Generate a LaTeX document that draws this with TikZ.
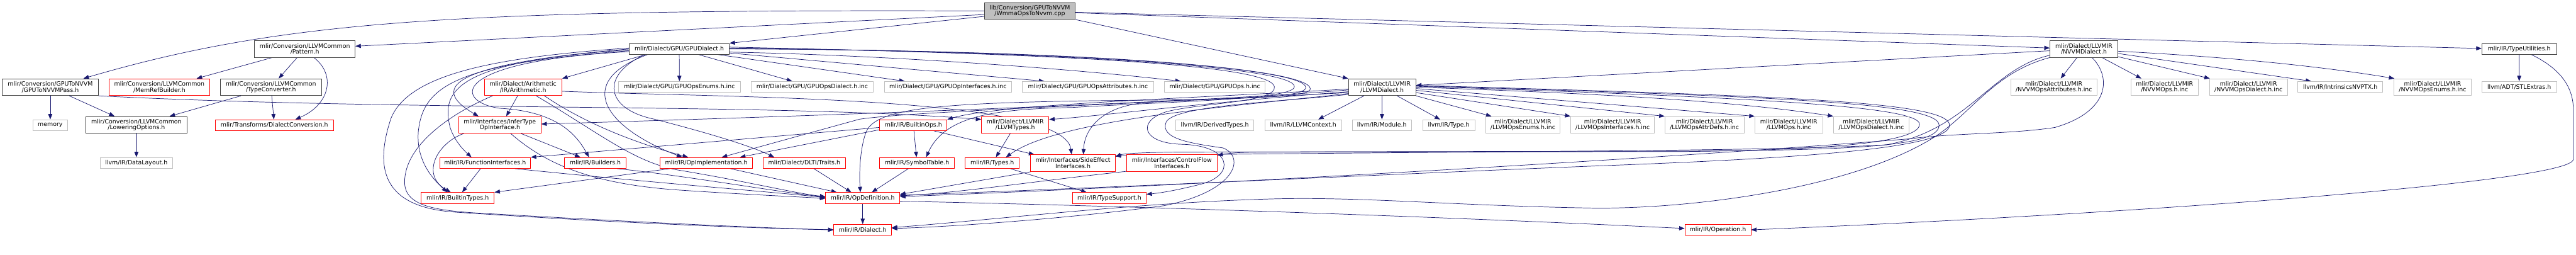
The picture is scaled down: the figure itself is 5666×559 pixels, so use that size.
\documentclass[tikz,border=0pt]{standalone}
\usepackage{fontspec}
\setmainfont{DejaVu Sans}[Ligatures=NoCommon]
\usepackage{xcolor}
\usepackage{tikz}
\usetikzlibrary{arrows.meta}
\definecolor{DoxEdge}{HTML}{191970}
\definecolor{DoxFrame}{HTML}{404040}
\definecolor{DoxRed}{HTML}{FF0000}
\definecolor{DoxGrey}{HTML}{BFBFBF}
\pgfdeclarelayer{background}
\pgfsetlayers{background,main}

\begin{document}
\begin{tikzpicture}[x=1pt,y=-1pt,>={Triangle[length=12pt,width=9pt]},
    hdr/.style={draw=DoxFrame,line width=1.1pt,fill=white,inner sep=0pt,
      align=center,minimum height=24pt,font=\fontsize{13}{13}\selectfont},
    w/.style={minimum width=#1pt},
    two/.style={minimum height=37pt},
    doc/.style={hdr},
    trunc/.style={hdr,draw=DoxRed},
    ext/.style={hdr,draw=DoxGrey},
    rootfile/.style={hdr,fill=DoxGrey},
    inc/.style={->,draw=DoxEdge,line width=1pt}]
  \useasboundingbox (0,0) rectangle (5666,559);
  % Source file.
  \node[rootfile,w=200,two] (wmma) at (2265,24) {lib/Conversion/GPUToNVVM\\/WmmaOpsToNvvm.cpp};
  % Direct includes.
  \node[doc,w=221,two] (pattern) at (670.5,107.5) {mlir/Conversion/LLVMCommon\\/Pattern.h};
  \node[doc,w=220] (gpudial) at (1494,107.5) {mlir/Dialect/GPU/GPUDialect.h};
  \node[doc,w=149,two] (nvvmdial) at (4583.5,107.5) {mlir/Dialect/LLVMIR\\/NVVMDialect.h};
  \node[doc,w=164] (typeutil) at (5541,107.5) {mlir/IR/TypeUtilities.h};
  % Second rank.
  \node[doc,w=211,two] (gpupass) at (110.5,191.5) {mlir/Conversion/GPUToNVVM\\/GPUToNVVMPass.h};
  \node[trunc,w=221,two] (memref) at (350.5,191.5) {mlir/Conversion/LLVMCommon\\/MemRefBuilder.h};
  \node[doc,w=222,two] (typeconv) at (596,191.5) {mlir/Conversion/LLVMCommon\\/TypeConverter.h};
  \node[trunc,w=171,two] (arith) at (1150.5,191.5) {mlir/Dialect/Arithmetic\\/IR/Arithmetic.h};
  \node[ext,w=267] (gpuenums) at (1494.5,191) {mlir/Dialect/GPU/GPUOpsEnums.h.inc};
  \node[ext,w=269] (gpuopsdial) at (1786.5,191) {mlir/Dialect/GPU/GPUOpsDialect.h.inc};
  \node[ext,w=280] (gpuiface) at (2085,191) {mlir/Dialect/GPU/GPUOpInterfaces.h.inc};
  \node[ext,w=288] (gpuattrs) at (2393,191) {mlir/Dialect/GPU/GPUOpsAttributes.h.inc};
  \node[ext,w=222] (gpuops) at (2672,191) {mlir/Dialect/GPU/GPUOps.h.inc};
  \node[doc,w=148,two] (llvmdial) at (3040,191.5) {mlir/Dialect/LLVMIR\\/LLVMDialect.h};
  \node[ext,w=189,two] (nvvmattrs) at (4517.5,191.5) {mlir/Dialect/LLVMIR\\/NVVMOpsAttributes.h.inc};
  \node[ext,w=148,two] (nvvmops) at (4761,191.5) {mlir/Dialect/LLVMIR\\/NVVMOps.h.inc};
  \node[ext,w=171,two] (nvvmopsdial) at (4945.5,191.5) {mlir/Dialect/LLVMIR\\/NVVMOpsDialect.h.inc};
  \node[ext,w=187] (nvptx) at (5147.5,191) {llvm/IR/IntrinsicsNVPTX.h};
  \node[ext,w=169,two] (nvvmenums) at (5350.5,191.5) {mlir/Dialect/LLVMIR\\/NVVMOpsEnums.h.inc};
  \node[ext,w=164] (stlextras) at (5541,191) {llvm/ADT/STLExtras.h};
  % Third rank.
  \node[ext,w=77] (memory) at (110.5,275) {memory};
  \node[doc,w=222,two] (lowering) at (300,274.5) {mlir/Conversion/LLVMCommon\\/LoweringOptions.h};
  \node[trunc,w=259] (dialconv) at (603.5,275) {mlir/Transforms/DialectConversion.h};
  \node[trunc,w=181,two] (infertype) at (1099.5,274.5) {mlir/Interfaces/InferType\\OpInterface.h};
  \node[trunc,w=148] (builtinops) at (2009,275) {mlir/IR/BuiltinOps.h};
  \node[trunc,w=148,two] (llvmtypes) at (2233,274.5) {mlir/Dialect/LLVMIR\\/LLVMTypes.h};
  \node[ext,w=172] (derived) at (2672,275) {llvm/IR/DerivedTypes.h};
  \node[ext,w=169] (llvmctx) at (2866.5,275) {llvm/IR/LLVMContext.h};
  \node[ext,w=131] (module) at (3039.5,275) {llvm/IR/Module.h};
  \node[ext,w=115] (irtype) at (3186.5,275) {llvm/IR/Type.h};
  \node[ext,w=163,two] (llvmenums) at (3349.5,274.5) {mlir/Dialect/LLVMIR\\/LLVMOpsEnums.h.inc};
  \node[ext,w=184,two] (llvmiface) at (3547,274.5) {mlir/Dialect/LLVMIR\\/LLVMOpsInterfaces.h.inc};
  \node[ext,w=174,two] (llvmattrs) at (3749,274.5) {mlir/Dialect/LLVMIR\\/LLVMOpsAttrDefs.h.inc};
  \node[ext,w=149,two] (llvmops) at (3934.5,274.5) {mlir/Dialect/LLVMIR\\/LLVMOps.h.inc};
  \node[ext,w=166,two] (llvmopsdial) at (4116,274.5) {mlir/Dialect/LLVMIR\\/LLVMOpsDialect.h.inc};
  % Fourth rank.
  \node[ext,w=158] (datalayout) at (300,358) {llvm/IR/DataLayout.h};
  \node[trunc,w=200] (funciface) at (1067,358) {mlir/IR/FunctionInterfaces.h};
  \node[trunc,w=135] (builders) at (1309.5,358) {mlir/IR/Builders.h};
  \node[trunc,w=203] (opimpl) at (1553.5,358) {mlir/IR/OpImplementation.h};
  \node[trunc,w=180] (dlti) at (1769,358) {mlir/Dialect/DLTI/Traits.h};
  \node[trunc,w=164] (symtab) at (2017,358) {mlir/IR/SymbolTable.h};
  \node[trunc,w=119] (types) at (2182.5,358) {mlir/IR/Types.h};
  \node[trunc,w=186,two] (sideeff) at (2360,358.5) {mlir/Interfaces/SideEffect\\Interfaces.h};
  \node[trunc,w=199,two] (ctrlflow) at (2577.5,358.5) {mlir/Interfaces/ControlFlow\\Interfaces.h};
  % Bottom ranks.
  \node[trunc,w=161] (builtintypes) at (1006.5,435) {mlir/IR/BuiltinTypes.h};
  \node[trunc,w=163] (opdef) at (1897.5,435) {mlir/IR/OpDefinition.h};
  \node[trunc,w=162] (typesupp) at (2440,435) {mlir/IR/TypeSupport.h};
  \node[trunc,w=127] (dialect) at (1897.5,505) {mlir/IR/Dialect.h};
  \node[trunc,w=145] (operation) at (3778.5,505) {mlir/IR/Operation.h};

  \begin{pgfonlayer}{background}
  % Includes of the source file.
  \draw[inc] (wmma.west) .. controls (1000,20) and (620,45) .. ([xshift=73pt]gpupass.north);
  \draw[inc] ([yshift=-8pt]wmma.west) -- ([yshift=6pt]pattern.east);
  \draw[inc] ([yshift=-12pt]wmma.west) -- (gpudial.north east);
  \draw[inc] (wmma.south east) -- (llvmdial.north west);
  \draw[inc] ([yshift=-4pt]wmma.east) -- ([yshift=2pt]nvvmdial.west);
  \draw[inc] ([yshift=-3pt]wmma.east) -- ([yshift=1pt]typeutil.west);
  % Conversion headers.
  \draw[inc] (gpupass) -- (memory);
  \draw[inc] ([xshift=42pt]gpupass.south) -- ([xshift=-48pt]lowering.north);
  \draw[inc] (gpupass.south east) .. controls (900,245) and (1700,226) .. ([yshift=12pt]llvmtypes.west);
  \draw[inc] ([xshift=-72pt]pattern.south) -- ([xshift=82pt]memref.north);
  \draw[inc] ([xshift=-17pt]pattern.south) -- ([xshift=17pt]typeconv.north);
  \draw[inc] ([xshift=20pt]pattern.south) .. controls (740,165) and (725,230) .. ([xshift=46pt]dialconv.north);
  \draw[inc] ([xshift=-66pt]typeconv.south) -- ([xshift=73pt]lowering.north);
  \draw[inc] (typeconv) -- (dialconv);
  \draw[inc] (lowering) -- (datalayout);
  % TypeUtilities.
  \draw[inc] (typeutil) -- (stlextras);
  \draw[inc] ([xshift=27pt]typeutil.south) .. controls (5630,150) and (5660,190) .. (5660,240)
        -- (5660,350) .. controls (5660,400) and (4700,470) .. (operation.east);
  % NVVM dialect.
  \draw[inc] ([yshift=-4pt]nvvmdial.west) -- ([yshift=4pt]llvmdial.east);
  \draw[inc] ([xshift=-15pt]nvvmdial.south) -- ([xshift=15pt]nvvmattrs.north);
  \draw[inc] ([xshift=40pt]nvvmdial.south) -- ([xshift=-51pt]nvvmops.north);
  \draw[inc] ([yshift=-17pt]nvvmdial.east) -- ([xshift=-85pt]nvvmopsdial.north);
  \draw[inc] ([yshift=-10pt]nvvmdial.east) -- ([xshift=-64pt]nvptx.north);
  \draw[inc] ([yshift=-5pt]nvvmdial.east) .. controls (4900,125) and (5100,145) .. ([xshift=-84pt]nvvmenums.north);
  \draw[inc] ([yshift=-14pt]nvvmdial.west) .. controls (4380,150) and (4330,285) .. (4150,318)
        .. controls (3900,334) and (3000,333) .. ([yshift=-3pt]sideeff.north east);
  \draw[inc] ([yshift=-19pt]nvvmdial.west) .. controls (4380,160) and (4330,260) .. (4240,310)
        .. controls (4050,420) and (3700,460) .. (3500,457)
        .. controls (3200,452) and (3000,432) .. (2800,437)
        .. controls (2500,445) and (2200,482) .. ([yshift=5pt]dialect.east);
  \draw[inc] ([xshift=18pt]nvvmdial.south) .. controls (4645,170) and (4640,245) .. (4520,280)
        .. controls (4420,295) and (4300,292) .. (4200,305)
        .. controls (3700,345) and (2700,405) .. ([yshift=3pt]opdef.east);
  % LLVM dialect.
  \draw[inc] ([xshift=-40pt]llvmdial.south) -- ([xshift=33pt]llvmctx.north);
  \draw[inc] (llvmdial) -- (module);
  \draw[inc] ([xshift=33pt]llvmdial.south) -- ([xshift=-19pt]irtype.north);
  \draw[inc] (llvmdial.south east) -- ([xshift=-69pt]llvmenums.north);
  \draw[inc] ([yshift=-12pt]llvmdial.east) -- (llvmiface.north west);
  \draw[inc] ([yshift=-7pt]llvmdial.east) -- (llvmattrs.north west);
  \draw[inc] ([yshift=-3pt]llvmdial.east) -- (llvmops.north west);
  \draw[inc] (llvmdial.east) .. controls (3500,205) and (3800,220) .. (llvmopsdial.north west);
  \draw[inc] ([yshift=2pt]llvmdial.east) .. controls (3900,215) and (4222,235) .. (4222,273)
        .. controls (4222,315) and (4000,330) .. (3700,333) -- (2800,334)
        .. controls (2720,334) and (2700,337) .. ([yshift=-2pt]ctrlflow.north east);
  \draw[inc] ([yshift=3pt]llvmdial.east) .. controls (3900,212) and (4265,225) .. (4265,275)
        .. controls (4265,320) and (4100,330) .. (3700,332) -- (2600,334)
        .. controls (2500,335) and (2470,338) .. ([yshift=-5pt]sideeff.north east);
  \draw[inc] ([yshift=4pt]llvmdial.east) .. controls (3900,210) and (4288,222) .. (4288,275)
        .. controls (4288,330) and (3900,350) .. (3500,365)
        .. controls (3000,385) and (2500,410) .. ([yshift=6pt]opdef.east);
  \draw[inc] ([yshift=-6pt]llvmdial.west) .. controls (2700,222) and (1800,255) .. ([yshift=2pt]infertype.east);
  \draw[inc] ([yshift=-10pt]llvmdial.west) .. controls (2650,225) and (2420,255) .. ([yshift=12pt]llvmtypes.east);
  \draw[inc] ([yshift=-4pt]llvmdial.west) .. controls (2650,215) and (2200,228) .. (builtinops.north east);
  \draw[inc] ([yshift=-14pt]llvmdial.west) .. controls (2700,235) and (2330,262) .. ([xshift=30pt]types.north);
  \draw[inc] ([yshift=-12pt]llvmdial.west) .. controls (2500,228) and (2000,245) .. (1890,262)
        -- ([xshift=-68pt]opimpl.north east);
  \draw[inc] ([yshift=-16pt]llvmdial.west) .. controls (2800,225) and (2585,232) .. (2565,268)
        .. controls (2550,305) and (2620,315) .. (2690,325)
        .. controls (2740,345) and (2720,420) .. (2560,452)
        .. controls (2350,480) and (2100,498) .. ([yshift=3pt]dialect.east);
  % GPU dialect.
  \draw[inc] (gpudial) -- (gpuenums);
  \draw[inc] ([xshift=43pt]gpudial.south) -- ([xshift=-44pt]gpuopsdial.north);
  \draw[inc] ([xshift=86pt]gpudial.south) -- ([xshift=-95pt]gpuiface.north);
  \draw[inc] ([yshift=-9pt]gpudial.east) -- ([xshift=-96pt]gpuattrs.north);
  \draw[inc] ([yshift=-7pt]gpudial.east) .. controls (1900,120) and (2300,145) .. ([xshift=-75pt]gpuops.north);
  \draw[inc] ([xshift=-74pt]gpudial.south) -- (arith.north east);
  \draw[inc] (gpudial.west) .. controls (1000,140) and (940,190) .. ([xshift=-47pt]infertype.north);
  \draw[inc] ([yshift=-2pt]gpudial.west) .. controls (1000,135) and (970,200) .. (990,280)
        .. controls (1000,310) and (1020,330) .. ([xshift=-30pt]funciface.north);
  \draw[inc] ([yshift=-4pt]gpudial.west) .. controls (1000,140) and (930,190) .. (920,290)
        .. controls (915,360) and (960,400) .. ([xshift=-23pt]builtintypes.north);
  \draw[inc] ([yshift=2pt]gpudial.west) .. controls (1100,125) and (900,160) .. (860,260)
        .. controls (820,380) and (850,455) .. (1000,466)
        .. controls (1300,486) and (1600,500) .. (dialect.west);
  \draw[inc] ([yshift=-6pt]gpudial.west) .. controls (980,135) and (1000,225) .. (1100,238)
        .. controls (1230,245) and (1270,300) .. ([xshift=-14pt]builders.north);
  \draw[inc] ([xshift=-70pt]gpudial.south) .. controls (1260,180) and (1330,280) .. ([xshift=-53pt]opimpl.north);
  \draw[inc] ([xshift=-76pt]gpudial.south) .. controls (1320,165) and (1330,240) .. (1440,262)
        .. controls (1550,290) and (1650,320) .. ([xshift=-66pt]dlti.north);
  \draw[inc] ([yshift=4pt]gpudial.east) .. controls (2300,118) and (2790,140) .. (2803,190)
        .. controls (2810,225) and (2650,225) .. (2567,245)
        .. controls (2500,265) and (2510,315) .. (2600,317)
        .. controls (2710,320) and (2720,385) .. (2640,405)
        .. controls (2580,420) and (2550,424) .. ([yshift=8pt]typesupp.east);
  \draw[inc] ([yshift=2pt]gpudial.east) .. controls (2400,115) and (2845,150) .. (2847,190)
        .. controls (2849,218) and (2600,222) .. (2360,236)
        .. controls (2200,240) and (2080,250) .. ([xshift=20pt]symtab.north);
  \draw[inc] ([yshift=1pt]gpudial.east) .. controls (2400,112) and (2870,150) .. (2872,192)
        .. controls (2874,222) and (2600,218) .. (2360,222)
        .. controls (2050,228) and (1925,240) .. (1905,290)
        .. controls (1890,330) and (1890,390) .. ([xshift=-5pt]opdef.north);
  \draw[inc] (gpudial.east) .. controls (2400,110) and (2880,150) .. (2882,195)
        .. controls (2884,222) and (2600,212) .. (2500,228)
        .. controls (2420,240) and (2385,285) .. ([xshift=23pt]sideeff.north);
  % Arithmetic dialect.
  \draw[inc] ([xshift=-12pt]arith.south) -- ([xshift=14pt]infertype.north);
  \draw[inc] ([xshift=-67pt]arith.south) .. controls (990,250) and (890,320) .. (890,400)
        .. controls (890,450) and (950,462) .. (1050,468)
        .. controls (1400,488) and (1650,500) .. (dialect.west);
  \draw[inc] ([yshift=-9pt]arith.east) .. controls (1600,215) and (2340,210) .. ([xshift=-3pt]sideeff.north);
  \draw[inc] ([xshift=47pt]arith.south) .. controls (1300,280) and (1420,320) .. ([xshift=-40pt]opimpl.north);
  \draw[inc] ([xshift=29pt]arith.south) .. controls (1330,300) and (1400,360) .. (1500,375)
        .. controls (1650,400) and (1750,425) .. ([yshift=3pt]opdef.west);
  % Interfaces and IR headers.
  \draw[inc] ([xshift=-80pt]infertype.south) .. controls (960,315) and (925,385) .. ([xshift=-15pt]builtintypes.north);
  \draw[inc] ([xshift=47pt]infertype.south) -- ([xshift=-33pt]builders.north);
  \draw[inc] ([xshift=24pt]infertype.south) .. controls (1200,360) and (1300,405) .. (1500,418)
        .. controls (1650,428) and (1750,432) .. ([yshift=-1pt]opdef.west);
  \draw[inc] ([xshift=-10pt]funciface.south) -- ([xshift=10pt]builtintypes.north);
  \draw[inc] ([xshift=66pt]funciface.south) .. controls (1400,398) and (1700,422) .. ([yshift=1pt]opdef.west);
  \draw[inc] ([xshift=48pt]builders.south) .. controls (1500,385) and (1700,420) .. ([yshift=2pt]opdef.west);
  \draw[inc] ([xshift=-80pt]opimpl.south) -- (builtintypes.north east);
  \draw[inc] ([xshift=53pt]opimpl.south) -- ([xshift=-57pt]opdef.north);
  \draw[inc] ([xshift=21pt]dlti.south) -- ([xshift=-25pt]opdef.north);
  \draw[inc] ([xshift=-19pt]symtab.south) -- ([xshift=20pt]opdef.north);
  \draw[inc] (builtinops) -- (symtab);
  \draw[inc] ([yshift=-5pt]builtinops.west) -- (funciface.north east);
  \draw[inc] ([yshift=-10pt]builtinops.west) -- ([xshift=-28pt]opimpl.north east);
  \draw[inc] ([xshift=45pt]builtinops.south) -- ([xshift=-85pt]sideeff.north);
  \draw[inc] ([xshift=-11pt]llvmtypes.south) -- ([xshift=8pt]types.north);
  \draw[inc] ([xshift=40pt]types.south) -- ([xshift=-50pt]typesupp.north);
  \draw[inc] (sideeff.south west) -- ([yshift=8pt]opdef.east);
  \draw[inc] ([yshift=-18pt]ctrlflow.west) .. controls (2300,395) and (2100,425) .. ([yshift=5pt]opdef.east);
  \draw[inc] (opdef) -- (dialect);
  \draw[inc] ([yshift=-7pt]opdef.east) .. controls (2600,455) and (3300,482) .. ([yshift=3pt]operation.west);
  \end{pgfonlayer}
\end{tikzpicture}
\end{document}
